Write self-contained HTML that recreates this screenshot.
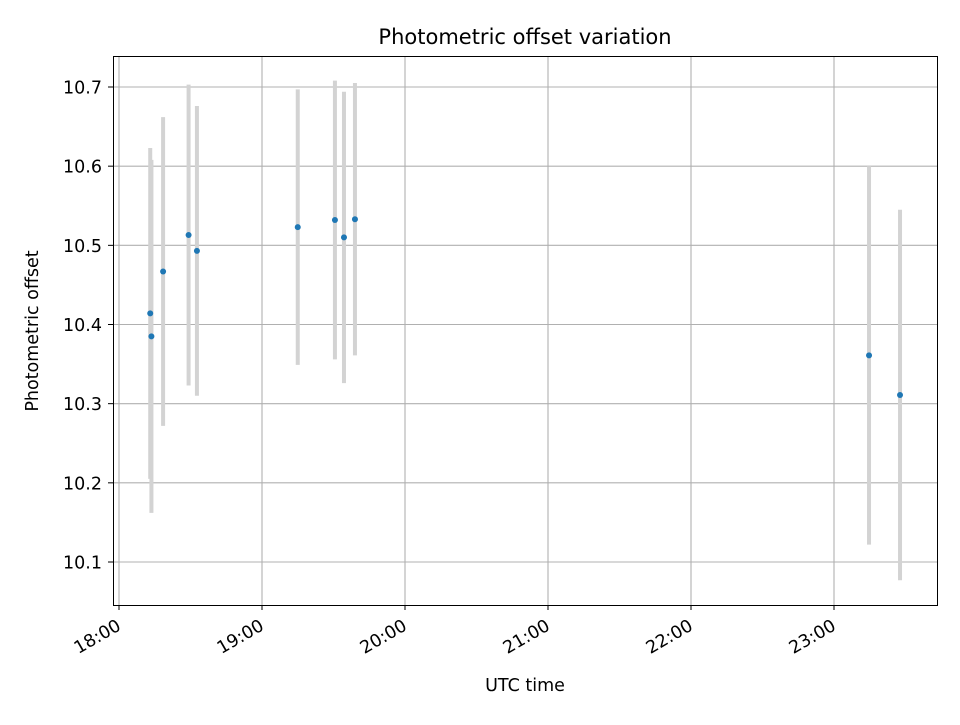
<!DOCTYPE html>
<html><head><meta charset="utf-8"><style>
html,body{margin:0;padding:0;background:#fff;}
svg text{font-family:"DejaVu Sans","Liberation Sans",sans-serif;fill:#000;}
</style></head><body>
<svg id="chart" width="960" height="720" xmlns="http://www.w3.org/2000/svg">
<rect width="960" height="720" fill="#fff"/>
<g id="grid"></g>
<g id="bars"></g>
<g id="pts"></g>
<rect x="113.5" y="56.5" width="824" height="549" fill="none" stroke="#000" stroke-width="1"/>
<g id="ticks"></g>
<text x="525" y="44" font-size="21" text-anchor="middle">Photometric offset variation</text>
<text x="525" y="691" font-size="17.5" text-anchor="middle">UTC time</text>
<text transform="translate(38,331) rotate(-90)" font-size="17.5" text-anchor="middle">Photometric offset</text>
</svg>
<script>
// minutes after 18:00
const times=[13.1,13.6,18.5,29.2,32.7,75.0,90.6,94.4,99.0,314.7,327.7];
const values=[10.414,10.385,10.467,10.513,10.493,10.523,10.532,10.510,10.533,10.361,10.311];
const errors=[0.209,0.223,0.195,0.190,0.183,0.174,0.176,0.184,0.172,0.239,0.234];
const xTickLabels=["18:00","19:00","20:00","21:00","22:00","23:00"];
const yTicks=[10.1,10.2,10.3,10.4,10.5,10.6,10.7];
const NS="http://www.w3.org/2000/svg";
function X(min){return 119+min*143/60;}
function Y(v){return 87+(10.7-v)*791.67;}
function mk(tag,attrs,parent){const e=document.createElementNS(NS,tag);for(const k in attrs)e.setAttribute(k,attrs[k]);parent.appendChild(e);return e;}
const grid=document.getElementById('grid'),bars=document.getElementById('bars'),pts=document.getElementById('pts'),ticks=document.getElementById('ticks');
xTickLabels.forEach((lab,i)=>{
 const x=X(i*60);
 const g=mk('line',{x1:x,x2:x,y1:56,y2:605,stroke:'#b0b0b0','stroke-width':1.1},grid);
 
 
 const t=mk('line',{x1:x,x2:x,y1:605,y2:610,stroke:'#000','stroke-width':1},ticks);
 
 
 const tx=mk('text',{x:x+3,y:629,'font-size':17.5,'text-anchor':'end',transform:`rotate(-30 ${x+3} 629)`},ticks);
 tx.textContent=lab;
 
 
});
yTicks.forEach(v=>{
 const y=Y(v);
 const g=mk('line',{x1:113,x2:937,y1:y,y2:y,stroke:'#b0b0b0','stroke-width':1.1},grid);
 
 
 const t=mk('line',{x1:108,x2:113,y1:y,y2:y,stroke:'#000','stroke-width':1},ticks);
 
 
 const tx=mk('text',{x:102,y:y+6.5,'font-size':17.5,'text-anchor':'end'},ticks);
 tx.textContent=v.toFixed(1);
 
 
});
times.forEach((m,i)=>{
 const x=X(m);
 const b=mk('line',{x1:x,x2:x,y1:Y(values[i]+errors[i]),y2:Y(values[i]-errors[i]),stroke:'#d3d3d3','stroke-width':4},bars);
 
 
});
times.forEach((m,i)=>{
 const c=mk('circle',{cx:X(m),cy:Y(values[i]),r:3,fill:'#1f77b4'},pts);
 
 
});
</script>
</body></html>
